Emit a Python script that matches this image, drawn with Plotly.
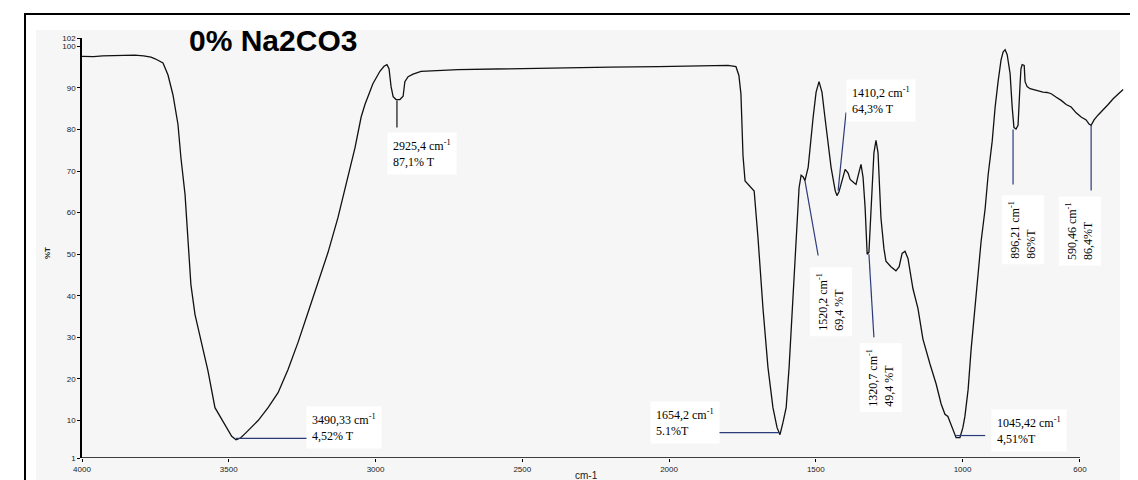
import plotly.graph_objects as go

# ---------------- data ----------------
wavenumber = [4000, 3960, 3930, 3900, 3860, 3820, 3790, 3765, 3751, 3724, 3707, 3690, 3673, 3663,
              3649, 3639, 3629, 3615, 3595, 3571, 3547, 3513, 3490, 3475, 3460, 3441, 3400, 3366,
              3332, 3298, 3264, 3230, 3196, 3162, 3128, 3094, 3070, 3049, 3036, 3009, 2985, 2971,
              2961, 2954, 2947, 2940, 2930, 2917, 2906, 2900, 2889, 2872, 2845, 2719, 2550, 2378,
              2200, 2037, 1900, 1799, 1772, 1762, 1755, 1748, 1741, 1724, 1710, 1697, 1680, 1663,
              1646, 1632, 1622, 1612, 1601, 1591, 1578, 1567, 1557, 1550, 1543, 1537, 1526, 1509,
              1499, 1489, 1479, 1469, 1448, 1434, 1428, 1421, 1414, 1400, 1390, 1383, 1370, 1363,
              1353, 1346, 1339, 1332, 1325, 1319, 1308, 1302, 1295, 1288, 1278, 1268, 1261, 1244,
              1227, 1216, 1206, 1196, 1186, 1169, 1152, 1135, 1111, 1090, 1073, 1060, 1050, 1036,
              1022, 1009, 999, 992, 981, 971, 957, 947, 937, 923, 913, 899, 889, 879, 869, 862,
              855, 848, 838, 831, 825, 818, 811, 804, 801, 797, 790, 787, 780, 770, 753, 740, 726,
              712, 698, 682, 664, 647, 630, 613, 596, 579, 569, 562, 552, 538, 521, 504, 487, 470, 453]
transmittance = [97.6, 97.5, 97.7, 97.8, 97.9, 97.9, 97.7, 97.4, 97.0, 96.0, 93.1, 88.3, 81.2, 73.2,
                 64.4, 53.3, 42.7, 35.5, 29.2, 22.0, 13.1, 9.1, 6.2, 5.4, 5.8, 7.1, 10.0, 13.1,
                 16.7, 22.3, 28.8, 36.0, 43.2, 50.4, 58.8, 68.4, 75.6, 83.0, 86.0, 91.0, 94.0, 95.2,
                 95.6, 94.6, 90.3, 87.9, 87.2, 87.2, 88.0, 91.5, 92.7, 93.3, 94.0, 94.4, 94.6, 94.9,
                 95.0, 95.1, 95.2, 95.4, 95.1, 93.0, 88.5, 73.7, 67.6, 66.4, 65.2, 54.0, 37.0, 22.8,
                 13.1, 8.3, 6.6, 9.5, 13.1, 22.8, 39.6, 54.0, 66.0, 69.0, 68.6, 67.7, 70.9, 83.0,
                 89.0, 91.5, 89.0, 83.0, 70.9, 65.3, 64.1, 65.0, 66.8, 70.4, 69.5, 68.0, 67.2, 66.8,
                 69.7, 71.6, 68.5, 61.2, 50.0, 50.5, 66.0, 74.4, 77.4, 74.4, 58.7, 51.4, 48.3, 47.0,
                 46.0, 47.0, 50.2, 50.7, 49.0, 41.7, 37.0, 29.6, 23.6, 18.8, 14.0, 11.5, 11.0, 8.3,
                 5.9, 5.9, 8.3, 11.0, 17.5, 27.0, 37.0, 45.5, 53.0, 61.0, 69.0, 77.2, 85.4, 91.5, 96.7, 98.6,
                 99.2, 98.0, 93.4, 85.4, 80.5, 80.1, 81.0, 91.0, 94.6, 95.6, 95.4, 91.5, 90.3, 89.8, 89.5, 89.2, 89.0,
                 88.9, 88.6, 87.8, 87.0, 86.0, 85.4, 84.0, 83.0, 82.3, 81.3, 81.0, 82.3, 83.5, 84.7, 86.0, 87.4, 88.6, 89.6]

x_tick_values = [4000, 3500, 3000, 2500, 2000, 1500, 1000, 600]
x_tick_labels = ["4000", "3500", "3000", "2500", "2000", "1500", "1000", "600"]
y_tick_values = [1, 10, 20, 30, 40, 50, 60, 70, 80, 90, 100, 102]
y_tick_labels = ["1", "10", "20", "30", "40", "50", "60", "70", "80", "90", "100", "102"]

title_text = "0% Na2CO3"

# peak labels: text, leader line (x0,y0)->(x1,y1), label anchor, rotation, line colour
peak_texts = ["2925,4 cm<sup>-1</sup><br>87,1% T",
              "3490,33 cm<sup>-1</sup><br>4,52% T",
              "1654,2 cm<sup>-1</sup><br>5.1%T",
              "1520,2 cm<sup>-1</sup><br>69,4 %T",
              "1320,7 cm<sup>-1</sup><br>49,4 %T",
              "1410,2 cm<sup>-1</sup><br>64,3% T",
              "896,21 cm<sup>-1</sup><br>86%T",
              "590,46 cm<sup>-1</sup><br>86,4%T",
              "1045,42 cm<sup>-1</sup><br>4,51%T"]
line_x0 = [2927, 3475, 1843, 1537, 1319, 1424, 828, 562, 1022]
line_y0 = [87.0, 5.7, 7.1, 67.7, 50.0, 65.3, 80.0, 81.2, 6.4]
line_x1 = [2927, 3230, 1622, 1492, 1302, 1397, 828, 562, 923]
line_y1 = [80.5, 5.7, 7.1, 49.7, 30.0, 84.1, 66.8, 65.3, 6.4]
label_x = [2961, 3237, 2065, 1448, 1278, 1397, 794, 601, 903]
label_y = [74.2, 8.3, 9.5, 38.6, 20.3, 86.9, 55.9, 55.5, 7.5]
label_angle = [0, 0, 0, -90, -90, 0, -90, -90, 0]
line_colors = ["#111111", "#2b3a7a", "#2b3a7a", "#2b3a7a", "#2b3a7a", "#2b3a7a",
               "#2b3a7a", "#2b3a7a", "#2b3a7a"]

# ---------------- figure ----------------
W, H = 1138, 480
ML, MR, MT, MB = 74, 22, 30, 30
PW, PH = W - ML - MR, H - MT - MB


def px(xp):
    return (xp - ML) / PW


def py(yp):
    return (H - MB - yp) / PH


fig = go.Figure()
fig.add_trace(go.Scatter(x=wavenumber, y=transmittance, mode="lines",
                         line=dict(color="#111111", width=1.3), hoverinfo="skip",
                         showlegend=False))

shapes = [
    # light grey panel
    dict(type="rect", xref="paper", yref="paper", x0=px(28), x1=px(1112), y0=py(22), y1=py(472),
         fillcolor="#f6f6f6", line=dict(width=0), layer="below"),
    # outer frame
    dict(type="rect", xref="paper", yref="paper", x0=px(17), x1=px(1132), y0=py(6), y1=py(484),
         fillcolor="rgba(0,0,0,0)", line=dict(color="black", width=2)),
    # x-axis line (ends at 600)
    dict(type="line", xref="x", yref="y", x0=x_tick_values[0], x1=x_tick_values[-1],
         y0=y_tick_values[0], y1=y_tick_values[0], line=dict(color="black", width=1.5)),
]

annotations = []
for t, x0, y0, x1, y1, lx, ly, ang, lc in zip(peak_texts, line_x0, line_y0, line_x1, line_y1,
                                               label_x, label_y, label_angle, line_colors):
    shapes.append(dict(type="line", xref="x", yref="y", x0=x0, y0=y0, x1=x1, y1=y1,
                       line=dict(color=lc, width=1.2)))
    annotations.append(dict(x=lx, y=ly, xref="x", yref="y", text=t, showarrow=False,
                            textangle=ang, align="left",
                            xanchor="left" if ang == 0 else "center", yanchor="middle",
                            font=dict(family="Liberation Serif, Times New Roman, serif",
                                      size=12, color="black"),
                            bgcolor="white", borderpad=5))

annotations += [
    dict(x=px(265), y=py(33), xref="paper", yref="paper", text="<b>" + title_text + "</b>",
         showarrow=False, xanchor="center", yanchor="middle",
         font=dict(family="Liberation Sans, Arial, sans-serif", size=30, color="black")),
    dict(x=px(40), y=py(245), xref="paper", yref="paper", text="<b>%T</b>", showarrow=False,
         textangle=-90, xanchor="center", yanchor="middle",
         font=dict(family="Liberation Sans, Arial, sans-serif", size=8, color="#222")),
    dict(x=px(578), y=py(467), xref="paper", yref="paper", text="cm-1", showarrow=False,
         xanchor="center", yanchor="middle",
         font=dict(family="Liberation Sans, Arial, sans-serif", size=10, color="#222")),
]

fig.update_layout(
    width=W, height=H,
    margin=dict(l=ML, r=MR, t=MT, b=MB),
    paper_bgcolor="white", plot_bgcolor="rgba(0,0,0,0)",
    shapes=shapes, annotations=annotations,
    xaxis=dict(range=[4000, 450], tickmode="array", tickvals=x_tick_values,
               ticktext=x_tick_labels, showgrid=False, zeroline=False, showline=False,
               ticks="outside", ticklen=3, tickcolor="black",
               tickfont=dict(family="Liberation Sans, Arial, sans-serif", size=8, color="#222")),
    yaxis=dict(range=[1, 102], tickmode="array", tickvals=y_tick_values,
               ticktext=y_tick_labels, showgrid=False, zeroline=False, showline=True,
               linecolor="black", linewidth=1.5, ticks="outside", ticklen=3, tickcolor="black",
               tickfont=dict(family="Liberation Sans, Arial, sans-serif", size=8, color="#222")),
)

fig.write_html("out.html")
